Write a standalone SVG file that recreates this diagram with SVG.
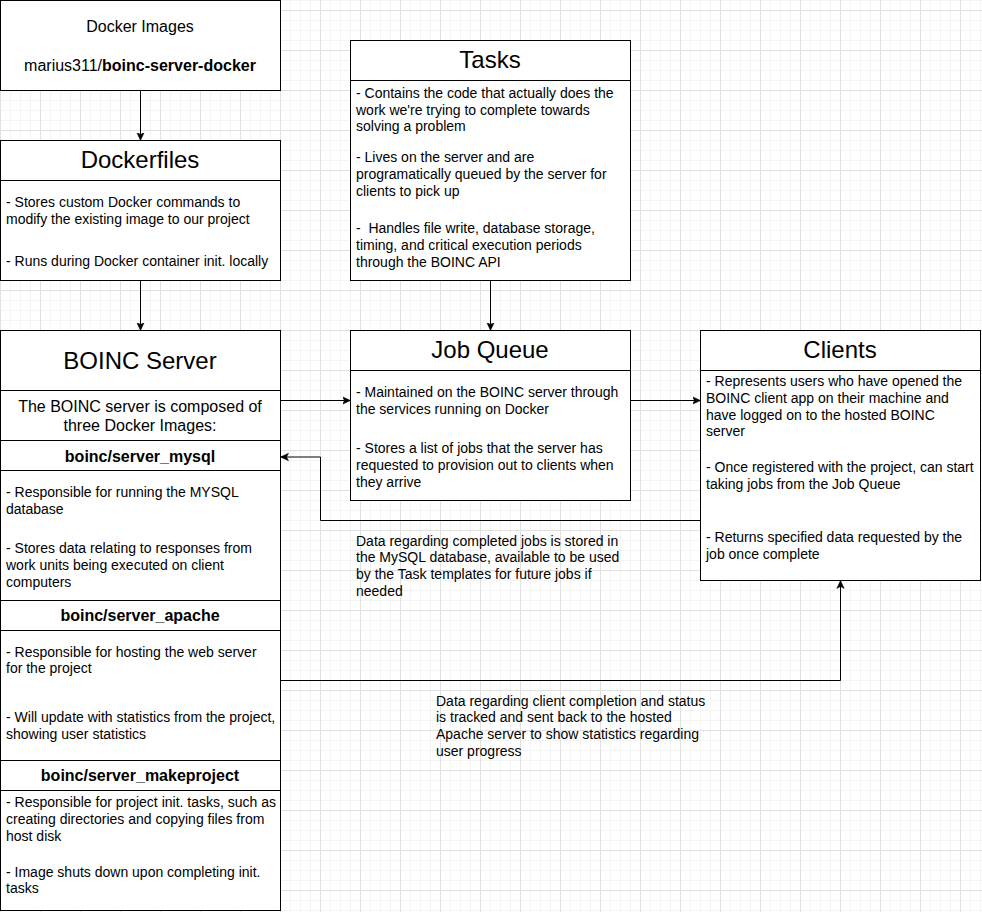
<svg xmlns="http://www.w3.org/2000/svg" width="982" height="912" viewBox="0 0 982 912">
<defs>
<pattern id="gMinor" patternUnits="userSpaceOnUse" x="0" y="0" width="10" height="10">
<rect x="0" y="0" width="1" height="10" fill="#f4f4f4"/>
<rect x="0" y="0" width="10" height="1" fill="#f4f4f4"/>
</pattern>
<pattern id="gMajor" patternUnits="userSpaceOnUse" x="0" y="10" width="40" height="40">
<rect x="0" y="0" width="1" height="40" fill="#e0e0e0"/>
<rect x="0" y="0" width="40" height="1" fill="#e0e0e0"/>
</pattern>
<marker id="arr" markerUnits="userSpaceOnUse" markerWidth="10" markerHeight="10" refX="8" refY="4" orient="auto" viewBox="0 0 10 8">
<path d="M8,4 L0,0.3 L2,4 L0,7.7 Z" fill="#000" stroke="#000" stroke-width="0.5"/>
</marker>
<style>
.box{fill:#fff;stroke:#000;stroke-width:1}
.div{stroke:#000;stroke-width:1;fill:none}
.conn{fill:none;stroke:#000;stroke-width:1;marker-end:url(#arr)}
text{font-family:"Liberation Sans",Arial,sans-serif;fill:#000}
.title{font-size:24px;text-anchor:middle}
.sub{font-size:16px;text-anchor:middle}
.subb{font-size:16px;text-anchor:middle;font-weight:bold}
.body{font-size:14px}
</style>
</defs>
<rect x="0" y="0" width="982" height="912" fill="#fff"/>
<rect x="0" y="0" width="982" height="912" fill="url(#gMinor)"/>
<rect x="0" y="0" width="982" height="912" fill="url(#gMajor)"/>

<g id="connectors" transform="translate(0.5,0.5)">
<path class="conn" d="M140,90 L140,140"/>
<path class="conn" d="M140,280 L140,330"/>
<path class="conn" d="M490,280 L490,330"/>
<path class="conn" d="M280,400 L350,400"/>
<path class="conn" d="M630,400 L700,400"/>
<path class="conn" d="M700,520 L320,520 L320,456.5 L280,456.5"/>
<path class="conn" d="M280,680 L840,680 L840,580"/>
</g>

<g id="docker-images">
<rect class="box" x="0.5" y="0.5" width="280" height="90"/>
<text class="sub" x="140" y="32">Docker Images</text>
<text class="sub" x="140" y="70.5">marius311/<tspan font-weight="bold">boinc-server-docker</tspan></text>
</g>

<g id="dockerfiles">
<rect class="box" x="0.5" y="140.5" width="280" height="140"/>
<path class="div" d="M0.5,180.5 L280.5,180.5"/>
<text class="title" x="140" y="168">Dockerfiles</text>
<text class="body" x="6" y="207">- Stores custom Docker commands to</text>
<text class="body" x="6" y="224">modify the existing image to our project</text>
<text class="body" x="6" y="265.5">- Runs during Docker container init. locally</text>
</g>

<g id="boinc-server">
<rect class="box" x="0.5" y="330.5" width="280" height="580"/>
<path class="div" d="M0.5,390.5 L280.5,390.5 M0.5,440.5 L280.5,440.5 M0.5,470.5 L280.5,470.5 M0.5,600.5 L280.5,600.5 M0.5,630.5 L280.5,630.5 M0.5,760.5 L280.5,760.5 M0.5,790.5 L280.5,790.5"/>
<text class="title" x="140" y="368.5">BOINC Server</text>
<text class="sub" x="140" y="411.5">The BOINC server is composed of</text>
<text class="sub" x="140" y="431">three Docker Images:</text>
<text class="subb" x="140" y="461.5">boinc/server_mysql</text>
<text class="body" x="6" y="497">- Responsible for running the MYSQL</text>
<text class="body" x="6" y="513.5">database</text>
<text class="body" x="6" y="552.5">- Stores data relating to responses from</text>
<text class="body" x="6" y="569.5">work units being executed on client</text>
<text class="body" x="6" y="586.5">computers</text>
<text class="subb" x="140" y="620.5">boinc/server_apache</text>
<text class="body" x="6" y="656.5">- Responsible for hosting the web server</text>
<text class="body" x="6" y="673">for the project</text>
<text class="body" x="6" y="721.5">- Will update with statistics from the project,</text>
<text class="body" x="6" y="738.5">showing user statistics</text>
<text class="subb" x="140" y="780.5">boinc/server_makeproject</text>
<text class="body" x="6" y="806.5">- Responsible for project init. tasks, such as</text>
<text class="body" x="6" y="823.5">creating directories and copying files from</text>
<text class="body" x="6" y="840.5">host disk</text>
<text class="body" x="6" y="876.5">- Image shuts down upon completing init.</text>
<text class="body" x="6" y="893">tasks</text>
</g>

<g id="tasks">
<rect class="box" x="350.5" y="40.5" width="280" height="240"/>
<path class="div" d="M350.5,80.5 L630.5,80.5"/>
<text class="title" x="490" y="68">Tasks</text>
<text class="body" x="356" y="97.5">- Contains the code that actually does the</text>
<text class="body" x="356" y="114.5">work we're trying to complete towards</text>
<text class="body" x="356" y="131">solving a problem</text>
<text class="body" x="356" y="162">- Lives on the server and are</text>
<text class="body" x="356" y="179">programatically queued by the server for</text>
<text class="body" x="356" y="196">clients to pick up</text>
<text class="body" x="356" y="232.5" style="white-space:pre">-  Handles file write, database storage,</text>
<text class="body" x="356" y="249.5">timing, and critical execution periods</text>
<text class="body" x="356" y="266.5">through the BOINC API</text>
</g>

<g id="job-queue">
<rect class="box" x="350.5" y="330.5" width="280" height="170"/>
<path class="div" d="M350.5,370.5 L630.5,370.5"/>
<text class="title" x="490" y="358">Job Queue</text>
<text class="body" x="356" y="396.5">- Maintained on the BOINC server through</text>
<text class="body" x="356" y="413.5">the services running on Docker</text>
<text class="body" x="356" y="452.5">- Stores a list of jobs that the server has</text>
<text class="body" x="356" y="469.5">requested to provision out to clients when</text>
<text class="body" x="356" y="487">they arrive</text>
</g>

<g id="clients">
<rect class="box" x="700.5" y="330.5" width="280" height="250"/>
<path class="div" d="M700.5,370.5 L980.5,370.5"/>
<text class="title" x="840" y="358">Clients</text>
<text class="body" x="706" y="385.5">- Represents users who have opened the</text>
<text class="body" x="706" y="402.5">BOINC client app on their machine and</text>
<text class="body" x="706" y="419.5">have logged on to the hosted BOINC</text>
<text class="body" x="706" y="436">server</text>
<text class="body" x="706" y="472">- Once registered with the project, can start</text>
<text class="body" x="706" y="489">taking jobs from the Job Queue</text>
<text class="body" x="706" y="542">- Returns specified data requested by the</text>
<text class="body" x="706" y="559">job once complete</text>
</g>

<g id="label-mysql">
<text class="body" x="356" y="545.5">Data regarding completed jobs is stored in</text>
<text class="body" x="356" y="562">the MySQL database, available to be used</text>
<text class="body" x="356" y="578.8">by the Task templates for future jobs if</text>
<text class="body" x="356" y="595.5">needed</text>
</g>

<g id="label-apache">
<text class="body" x="436" y="705.5">Data regarding client completion and status</text>
<text class="body" x="436" y="722.2">is tracked and sent back to the hosted</text>
<text class="body" x="436" y="738.8">Apache server to show statistics regarding</text>
<text class="body" x="436" y="755.5">user progress</text>
</g>
</svg>
